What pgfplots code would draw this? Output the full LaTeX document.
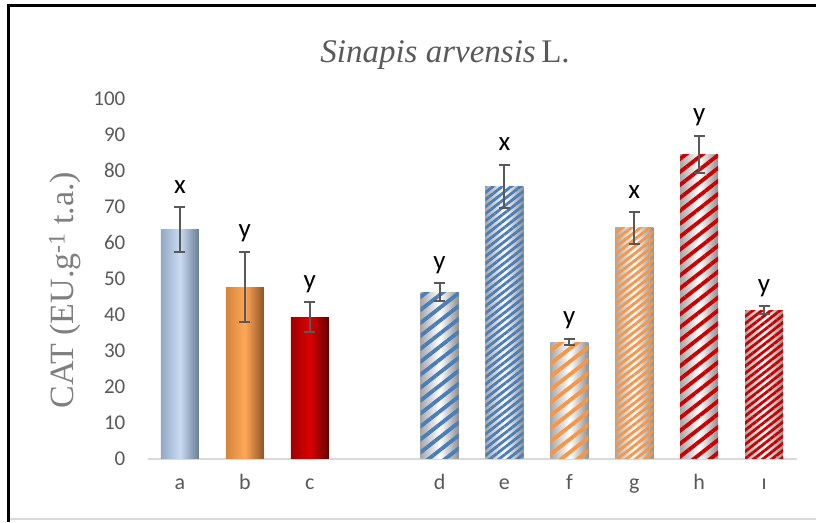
\documentclass[border=0pt]{standalone}
\usepackage{pgfplots}
\pgfplotsset{compat=1.18}
\usepackage{pgfplotstable}
\usepackage{fontspec}
\setmainfont{Liberation Serif}
\newfontfamily\calibri{Carlito}
\usetikzlibrary{patterns.meta}
\definecolor{tickgray}{HTML}{595959}
\definecolor{labgray}{HTML}{7F7F7F}
\definecolor{errgray}{HTML}{595959}
\definecolor{basegray}{HTML}{D9D9D9}
\definecolor{aL}{HTML}{94A9C4}\definecolor{aM}{HTML}{C8DBF2}\definecolor{aR}{HTML}{6A7C94}
\definecolor{bL}{HTML}{D4853C}\definecolor{bM}{HTML}{FFA757}\definecolor{bR}{HTML}{8F5527}
\definecolor{cL}{HTML}{A00000}\definecolor{cM}{HTML}{DA0000}\definecolor{cR}{HTML}{650000}
\definecolor{cylL}{HTML}{A8A8A8}\definecolor{cylR}{HTML}{909090}
\definecolor{pblue}{HTML}{4A7EBB}
\definecolor{porange}{HTML}{F79646}
\definecolor{pred}{HTML}{CC0000}
\pgfplotstableread{
x v e t lab
0 63.6 6.2 69.8 x
1 47.6 9.8 57.4 y
2 39.2 4.2 43.4 y
4 46.2 2.5 48.7 y
5 75.5 6.0 81.5 x
6 32.3 0.9 33.2 y
7 64.0 4.4 68.4 x
8 84.4 5.2 89.6 y
9 41.2 1.0 42.2 y
}\datatable
\pgfplotsset{cyl/.style={ybar, bar width=38pt, bar shift=0pt, draw=none, left color=cylL, right color=cylR, middle color=white},
  stripe/.style={ybar, bar width=38pt, bar shift=0pt, draw=none}}
\begin{document}
\begin{tikzpicture}[x=1pt,y=1pt]
\useasboundingbox (0,0) rectangle (816,522);
\fill[white] (0,0) rectangle (816,522);
\draw[black, line width=2.5pt] (8.5,0) -- (8.5,516.5) -- (816,516.5);
\draw[basegray, line width=1.5pt] (9.75,3) -- (816,3);
\node[anchor=base, text=tickgray, font=\fontsize{33}{35}\selectfont] at (445,459) {\textit{Sinapis arvensis}\,L.};
\node[rotate=90, text=labgray, font=\fontsize{34}{36}\selectfont] at (65,232) {CAT (EU.g\textsuperscript{-1} t.a.)};
\begin{axis}[
  at={(147.5pt,63.5pt)}, anchor=south west,
  scale only axis, width=649pt, height=360.2pt,
  xmin=-0.5, xmax=9.5, ymin=0, ymax=100,
  clip=false,
  axis x line*=bottom, axis y line*=left,
  x axis line style={draw=basegray, line width=2pt},
  y axis line style={draw=none},
  major tick length=0pt,
  tick style={draw=none},
  xtick={0,1,2,4,5,6,7,8,9},
  xticklabels={a,b,c,d,e,f,g,h,ı},
  ytick={0,10,...,100},
  /pgf/number format/assume math mode=true,
  yticklabel style={font=\calibri\fontsize{21}{23}\selectfont, text=tickgray, inner sep=0pt, anchor=east},
  yticklabel shift=22pt,
  xticklabel style={font=\calibri\fontsize{22}{24}\selectfont, text=tickgray, inner sep=0pt, anchor=base},
  xticklabel shift=31pt,
]
% solid bars
\addplot[ybar, bar width=38pt, bar shift=0pt, draw=none, left color=aL, right color=aR, middle color=aM] coordinates {(0,63.6)};
\addplot[ybar, bar width=38pt, bar shift=0pt, draw=none, left color=bL, right color=bR, middle color=bM] coordinates {(1,47.6)};
\addplot[ybar, bar width=38pt, bar shift=0pt, draw=none, left color=cL, right color=cR, middle color=cM] coordinates {(2,39.2)};
% patterned bars: cylinder base, one per bar
\addplot[cyl] coordinates {(4,46.2)};
\addplot[cyl] coordinates {(5,75.5)};
\addplot[cyl] coordinates {(6,32.3)};
\addplot[cyl] coordinates {(7,64.0)};
\addplot[cyl] coordinates {(8,84.4)};
\addplot[cyl] coordinates {(9,41.2)};
% stripes
\addplot[stripe, pattern={Lines[angle=38,distance=10.2pt,line width=3.8pt]}, pattern color=pblue] coordinates {(4,46.2)};
\addplot[stripe, pattern={Lines[angle=38,distance=5.6pt,line width=2.8pt]}, pattern color=pblue] coordinates {(5,75.5)};
\addplot[stripe, pattern={Lines[angle=38,distance=10.2pt,line width=3.8pt]}, pattern color=porange] coordinates {(6,32.3)};
\addplot[stripe, pattern={Lines[angle=38,distance=5.6pt,line width=2.8pt]}, pattern color=porange] coordinates {(7,64.0)};
\addplot[stripe, pattern={Lines[angle=38,distance=10.2pt,line width=3.8pt]}, pattern color=pred] coordinates {(8,84.4)};
\addplot[stripe, pattern={Lines[angle=38,distance=5.6pt,line width=2.8pt]}, pattern color=pred] coordinates {(9,41.2)};
% error bars
\addplot[draw=none, mark=none, forget plot,
  error bars/.cd, y dir=both, y explicit,
  error bar style={draw=errgray, line width=2pt},
  error mark options={rotate=90, mark size=5.5pt, line width=2pt, draw=errgray}]
  table[x=x, y=v, y error=e] \datatable;
% letters
\addplot[draw=none, mark=none, forget plot, nodes near coords, point meta=explicit symbolic,
  every node near coord/.style={anchor=base, yshift=14pt, inner sep=0pt, font=\calibri\fontsize{27}{29}\selectfont, text=black}]
  table[x=x, y=t, meta=lab] \datatable;
\end{axis}
\end{tikzpicture}
\end{document}
